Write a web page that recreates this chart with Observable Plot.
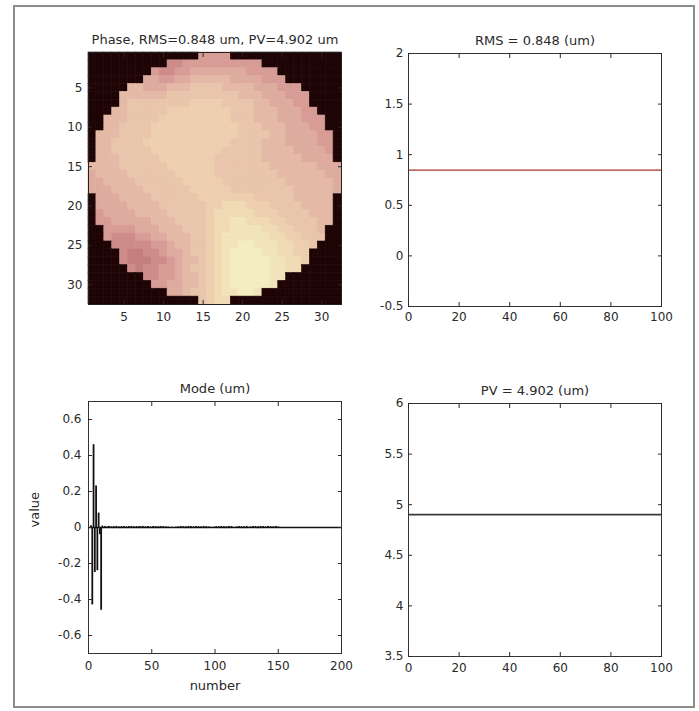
<!DOCTYPE html>
<html><head><meta charset="utf-8">
<script src="https://cdn.jsdelivr.net/npm/d3@7"></script>
<script src="https://cdn.jsdelivr.net/npm/@observablehq/plot@0.6"></script>
<style>
html,body{margin:0;padding:0;background:#fff;}
#fig{position:relative;width:699px;height:711px;overflow:hidden;font-family:"DejaVu Sans",sans-serif;background:#fff;}
#border{position:absolute;left:13px;top:5px;width:682px;height:703px;border:2px solid #8c8c8c;box-sizing:border-box;}
</style></head><body><div id="fig"><div id="border"></div></div>
<script>
// ---------- DATA ----------
const phaseTitle = "Phase, RMS=0.848 um, PV=4.902 um";
const rmsTitle = "RMS = 0.848 (um)";
const pvTitle = "PV = 4.902 (um)";
const modeTitle = "Mode (um)";
const rmsValue = [0.848];
const pvValue = [4.902];

// 32x32 phase map: "." outside pupil, digits = colour level
const phaseRows = [
"..............2222..............",
"..........112222222222..........",
"........2112233333332222........",
".......332233444443333222.......",
".....4433344455554444333222.....",
"....444444555555555444333222....",
"....455555555666655554433322....",
"...44555556666666655544433322...",
"..4445555666666666555444333222..",
"..4455556666666666655544433322..",
".444555566666666666555544333322.",
".445555666666666665555444333322.",
".445555566666666655555444433332.",
".444555556666666555555444443333.",
"44445555556666665555555444444333",
"34444555555666665555555544444433",
"33444455555566666555555554444443",
"33344445555556666655555555444443",
".333444455555566666665555544444.",
".333344445555556677766655554444.",
".233334444555556777776665555444.",
".223333344455556778877766555544.",
"..2222333444555677888877665554..",
"..2111223344455678888887766555..",
"...11111223445567889988877665...",
"....100112334556789999887766....",
"....100011234456789999988776....",
".....1011223455678999998877.....",
".......112234456789999988.......",
"........2233445678999998........",
"..........334556788998..........",
"..............5677.............."
];
const levelT = [0.38,0.41,0.45,0.49,0.53,0.565,0.60,0.66,0.72,0.78];
const outsideT = 0;
const imgTicks = [5,10,15,20,25,30];
// colormap stops (pink-like, as seen in the picture)
const cmapDomain = [0, 0.38, 0.41, 0.45, 0.49, 0.53, 0.565, 0.60, 0.66, 0.72, 0.78];
const cmapRange = ["#1e0404","#c47e7e","#cd8c89","#d79c95","#deab9f","#e4b9a6","#e9c5ab","#edcfaf","#f0dab4","#f2e4ba","#f4edc2"];

// Mode coefficients (index 1..150)
const modeValues = [
 0.000, 0.010,-0.430, 0.460,-0.250, 0.230,-0.240, 0.080,-0.040,-0.460,
 0.008,-0.006, 0.005,-0.004, 0.003, 0.006,-0.005, 0.004,-0.006, 0.005,
-0.004, 0.006,-0.005, 0.004,-0.006, 0.005,-0.004, 0.006,-0.005, 0.004,
-0.006, 0.005,-0.004, 0.006,-0.005, 0.004,-0.003, 0.005,-0.006, 0.004,
 0.005,-0.004, 0.006,-0.005, 0.004,-0.006, 0.005,-0.004, 0.003,-0.005,
 0.006,-0.004, 0.005,-0.006, 0.004,-0.005, 0.006,-0.004, 0.005,-0.003,
 0.004,-0.005, 0.003, 0.000, 0.000, 0.001, 0.000, 0.000, 0.002,-0.001,
 0.004,-0.005, 0.006,-0.004, 0.005,-0.006, 0.004,-0.005, 0.006,-0.004,
 0.005,-0.006, 0.004,-0.005, 0.006,-0.004, 0.005,-0.003, 0.004,-0.005,
 0.006,-0.004, 0.005,-0.006, 0.003, 0.001, 0.000,-0.001, 0.002,-0.004,
 0.005,-0.006, 0.004,-0.005, 0.006,-0.004, 0.005,-0.006, 0.004,-0.005,
 0.006,-0.004, 0.005, 0.001, 0.000,-0.001, 0.004,-0.005, 0.006,-0.004,
 0.005,-0.006, 0.004,-0.005, 0.006, 0.001, 0.000, 0.004,-0.005, 0.006,
-0.004, 0.005,-0.006, 0.004,-0.005, 0.006,-0.004, 0.005,-0.003, 0.004,
-0.005, 0.006,-0.004, 0.005,-0.006, 0.004,-0.005, 0.006,-0.004, 0.003
];
const modeXTicks = [0,50,100,150,200];
const modeYTicks = [-0.6,-0.4,-0.2,0,0.2,0.4,0.6];
const rmsXTicks = [0,20,40,60,80,100];
const rmsYTicks = [-0.5,0,0.5,1,1.5,2];
const pvXTicks = [0,20,40,60,80,100];
const pvYTicks = [3.5,4,4.5,5,5.5,6];

// ---------- HELPERS ----------
const fig = document.getElementById("fig");
const INK = "#2a2a2a";

function boxAxes(xt, yt, p) {
  return [
    Plot.axisX({anchor: "bottom", ticks: xt, tickSize: -4, tickPadding: p.xpad, tickFormat: d => String(d), label: null, fontSize: 12}),
    Plot.axisX({anchor: "top", ticks: xt, tickSize: -4, tickFormat: () => "", label: null}),
    Plot.axisY({anchor: "left", ticks: yt, tickSize: -4, tickPadding: p.ypad, tickFormat: d => String(d), label: null, fontSize: 12}),
    Plot.axisY({anchor: "right", ticks: yt, tickSize: -4, tickFormat: () => "", label: null})
  ];
}

function title(t, dy) {
  return Plot.text([t], {x: null, y: null, text: d => d, frameAnchor: "top", lineAnchor: "bottom", dy: dy, fontSize: 13, fill: INK});
}

function panel(left, top, fw, fh, opts, marks) {
  const ml = 60, mr = 20, mt = 40, mb = 45;
  const p = Plot.plot({
    width: ml + fw + mr, height: mt + fh + mb,
    marginLeft: ml, marginRight: mr, marginTop: mt, marginBottom: mb,
    style: {background: "transparent", fontFamily: "DejaVu Sans", fontSize: "12px", color: INK, overflow: "visible"},
    ...opts,
    marks
  });
  p.style.position = "absolute";
  p.style.left = (left - ml) + "px";
  p.style.top = (top - mt) + "px";
  fig.appendChild(p);
}

// ---------- PHASE MAP ----------
const phaseCells = [];
phaseRows.forEach((row, ri) => {
  [...row].forEach((ch, ci) => {
    phaseCells.push({row: ri + 1, col: ci + 1, t: ch === "." ? outsideT : levelT[+ch]});
  });
});
const idx = phaseRows.map((_, i) => i + 1);

panel(88, 52, 253, 252, {
  x: {type: "band", domain: idx, padding: 0, round: false},
  y: {type: "band", domain: idx, padding: 0, round: false},
  color: {type: "linear", domain: cmapDomain, range: cmapRange, interpolate: "rgb"}
}, [
  Plot.cell(phaseCells, {x: "col", y: "row", fill: "t", stroke: "t", strokeWidth: 0.6, inset: 0}),
  Plot.frame({stroke: "#222"}),
  ...boxAxes(imgTicks, imgTicks, {xpad: 12, ypad: 10}),
  title(phaseTitle, -9)
]);

// ---------- RMS ----------
panel(408, 53, 253, 253, {
  x: {domain: [0, 100]},
  y: {domain: [-0.5, 2]}
}, [
  Plot.ruleY(rmsValue, {stroke: "#a83028", strokeWidth: 1.4}),
  Plot.frame({stroke: "#333"}),
  ...boxAxes(rmsXTicks, rmsYTicks, {xpad: 10, ypad: 9}),
  title(rmsTitle, -9)
]);

// ---------- MODE ----------
const modeData = modeValues.map((v, i) => ({n: i + 1, v}));
panel(88, 401, 253, 252, {
  x: {domain: [0, 200]},
  y: {domain: [-0.7, 0.7]}
}, [
  Plot.ruleY([0], {stroke: "#111", strokeWidth: 1.3}),
  Plot.ruleX(modeData, {x: "n", y1: 0, y2: "v", stroke: "#111", strokeWidth: 1.8}),
  Plot.frame({stroke: "#333"}),
  ...boxAxes(modeXTicks, modeYTicks, {xpad: 12, ypad: 11}),
  title(modeTitle, -9),
  Plot.text(["number"], {x: null, y: null, text: d => d, frameAnchor: "bottom", lineAnchor: "top", dy: 27, fontSize: 13, fill: INK}),
  Plot.text(["value"], {x: null, y: null, text: d => d, frameAnchor: "left", rotate: -90, lineAnchor: "middle", dx: -54, fontSize: 13, fill: INK})
]);

// ---------- PV ----------
panel(408, 403, 253, 253, {
  x: {domain: [0, 100]},
  y: {domain: [3.5, 6]}
}, [
  Plot.ruleY(pvValue, {stroke: "#3a3a3a", strokeWidth: 1.6}),
  Plot.frame({stroke: "#333"}),
  ...boxAxes(pvXTicks, pvYTicks, {xpad: 11, ypad: 9}),
  title(pvTitle, -9)
]);
</script></body></html>
